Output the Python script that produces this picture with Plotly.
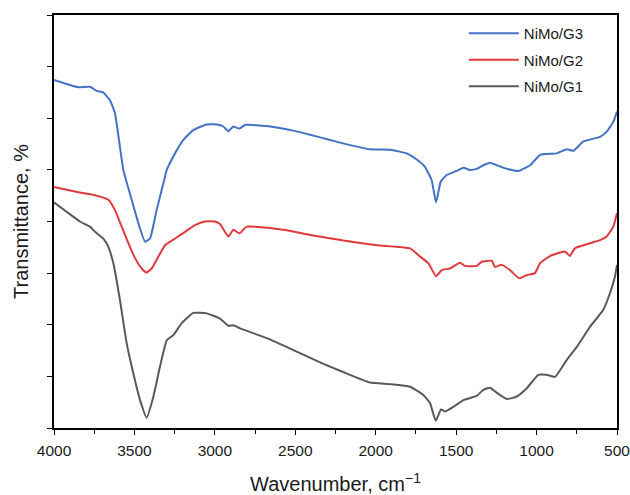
import plotly.graph_objects as go

# NiMo/G3 (blue)
wn_g3 = [4000, 3940, 3851, 3776, 3735, 3695, 3652, 3621, 3569, 3517, 3476, 3434, 3403,
         3362, 3320, 3299, 3258, 3196, 3134, 3051, 2988, 2947, 2916, 2885, 2848, 2812,
         2677, 2512, 2408, 2284, 2160, 2035, 1911, 1807, 1745, 1694, 1652, 1625, 1596,
         1559, 1497, 1455, 1414, 1372, 1331, 1289, 1247, 1185, 1113, 1040, 978, 874,
         812, 771, 709, 605, 564, 523, 500]
t_g3 = [67.4, 66.8, 66.0, 66.1, 65.3, 65.0, 63.5, 61.0, 50.0, 44.2, 39.7, 36.1, 36.7,
        42.2, 47.4, 50.0, 52.6, 55.8, 57.7, 58.8, 58.8, 58.4, 57.5, 58.4, 58.0, 58.7,
        58.5, 57.6, 56.8, 55.8, 54.8, 54.0, 53.9, 53.2, 52.0, 50.6, 48.0, 43.7, 47.7,
        49.0, 49.8, 50.4, 50.0, 50.2, 50.9, 51.4, 50.9, 50.2, 49.8, 50.9, 52.9, 53.2,
        54.0, 53.7, 55.5, 56.4, 57.4, 59.3, 61.3]

# NiMo/G2 (red)
wn_g2 = [4000, 3900, 3839, 3745, 3662, 3621, 3579, 3538, 3496, 3455, 3424, 3393, 3351,
         3310, 3247, 3185, 3123, 3061, 3000, 2968, 2916, 2885, 2848, 2802, 2575, 2408,
         2200, 1993, 1786, 1724, 1672, 1625, 1590, 1538, 1476, 1445, 1372, 1341, 1279,
         1259, 1217, 1166, 1108, 1062, 1010, 979, 917, 824, 793, 762, 668, 605, 564,
         523, 500]
t_g2 = [46.7, 46.0, 45.6, 45.1, 44.2, 42.2, 39.0, 35.8, 32.9, 30.9, 30.1, 30.9, 33.2,
        35.4, 36.7, 38.0, 39.3, 40.0, 40.0, 39.5, 37.1, 38.4, 37.7, 39.0, 38.4, 37.4,
        36.3, 35.4, 34.8, 33.2, 31.9, 29.4, 30.6, 30.9, 32.0, 31.4, 31.4, 32.2, 32.4,
        31.2, 31.6, 30.6, 29.0, 29.6, 30.0, 31.9, 33.3, 34.2, 33.3, 34.8, 35.8, 36.4,
        37.1, 39.0, 41.6]

# NiMo/G1 (grey)
wn_g1 = [4000, 3922, 3839, 3776, 3745, 3693, 3662, 3631, 3604, 3590, 3548, 3507, 3465,
         3424, 3382, 3341, 3299, 3258, 3206, 3134, 3051, 2968, 2916, 2885, 2843, 2677,
         2512, 2346, 2284, 2160, 2035, 1911, 1786, 1704, 1662, 1627, 1594, 1569, 1517,
         1455, 1372, 1331, 1289, 1247, 1185, 1123, 1061, 989, 937, 886, 812, 750, 668,
         585, 544, 513, 500]
t_g1 = [43.7, 41.9, 40.0, 39.0, 38.0, 36.7, 35.1, 31.9, 27.4, 24.8, 16.4, 10.6, 5.4,
        2.0, 6.1, 11.9, 17.0, 18.0, 20.3, 22.3, 22.2, 21.2, 19.8, 19.9, 19.3, 17.4,
        15.1, 12.7, 11.9, 10.3, 8.8, 8.5, 8.0, 6.4, 4.8, 1.4, 3.6, 3.2, 4.1, 5.4, 6.2,
        7.4, 7.8, 6.8, 5.6, 6.1, 7.7, 10.3, 10.3, 9.9, 13.2, 15.7, 19.6, 22.9, 26.1,
        29.3, 31.6]

names = ["NiMo/G3", "NiMo/G2", "NiMo/G1"]
colors = ["#4472C4", "#E0393E", "#595959"]
series = [(wn_g3, t_g3), (wn_g2, t_g2), (wn_g1, t_g1)]

fig = go.Figure()
for name, color, (x, y) in zip(names, colors, series):
    fig.add_trace(go.Scatter(x=x, y=y, mode="lines", name=name, legendgroup=name,
                             line=dict(color=color, width=2, shape="spline",
                                       smoothing=0.4)))

font = "Arial, Liberation Sans, sans-serif"
fig.update_layout(
    width=630, height=495,
    margin=dict(l=54, r=13, t=15, b=67),
    paper_bgcolor="white", plot_bgcolor="white",
    font=dict(family=font, color="#1a1a1a"),
    showlegend=True,
    legend=dict(x=0.728, y=0.995, xanchor="left", yanchor="top",
                bgcolor="rgba(0,0,0,0)", font=dict(size=15, color="#1a1a1a"),
                itemwidth=50, tracegroupgap=4),
    xaxis=dict(range=[4000, 500], tickmode="linear", tick0=500, dtick=500,
               ticks="outside", ticklen=5, tickcolor="black",
               minor=dict(dtick=250, ticks="outside", ticklen=4, tickcolor="black"),
               showline=True, linecolor="black", linewidth=1.5, mirror=True,
               showgrid=False, zeroline=False, automargin=False,
               ticklabeloverflow="allow",
               tickfont=dict(size=15.5, color="#1a1a1a"), ticklabelstandoff=3,
               title=dict(text="Wavenumber, cm<sup>−1</sup>", font=dict(size=20),
                          standoff=25)),
    yaxis=dict(range=[0, 80], tickmode="linear", tick0=0, dtick=10,
               ticks="outside", ticklen=5, tickcolor="black",
               showticklabels=False, automargin=False,
               showline=True, linecolor="black", linewidth=1.5, mirror=True,
               showgrid=False, zeroline=False,
               title=dict(text="Transmittance, %", font=dict(size=20), standoff=13)),
)

# remove the browser's default 8px body margin so the figure fills the window
fig.write_html("out.html",
               config={"displayModeBar": False},
               post_script="document.body.style.margin='0';"
                           "document.body.style.overflow='hidden';")
